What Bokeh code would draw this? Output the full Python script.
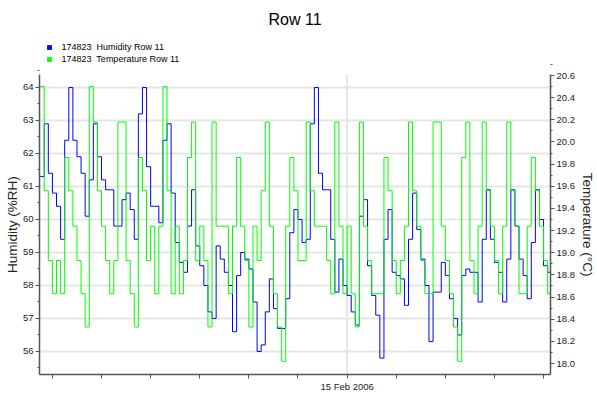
import pandas as pd
from bokeh.plotting import figure
from bokeh.models import (Range1d, LinearAxis, FixedTicker, PrintfTickFormatter,
                          CustomJSTickFormatter, Legend, LegendItem, ColumnDataSource)
from bokeh.embed import file_html
from bokeh.resources import INLINE

# ---- data (2-hour samples) ----
start_time = "2006-02-08 18:00"
sample_step = "2h"

humidity = [
    61.3, 62.9, 61.4, 60.8, 60.4, 59.4, 62.4, 64.0, 62.4, 61.9, 61.4, 60.1, 61.2, 62.9, 61.9, 61.2,
    60.9, 60.9, 59.8, 59.8, 60.6, 60.8, 60.3, 59.4, 63.2, 64.0, 61.6, 60.4, 60.4, 59.9, 62.4,
    62.9, 60.8, 59.3, 58.7, 58.4, 59.8, 60.9, 59.2, 58.6, 58.0, 57.2, 57.0, 59.2, 58.8, 58.4, 58.0,
    56.6, 58.3, 59.0, 58.8, 58.5, 57.5, 56.0, 56.2, 57.2, 58.2, 57.3, 56.7, 56.7, 57.6, 59.6,
    60.3, 60.0, 59.3, 59.4, 62.9, 64.0, 61.4, 60.9, 60.9, 59.4, 57.8, 58.8, 58.0, 57.7, 57.2, 56.8,
    60.1, 60.6, 58.6, 57.7, 57.1, 55.8, 59.4, 60.3, 58.4, 58.3, 58.2, 57.4, 59.4, 60.8, 59.7,
    58.8, 58.0, 56.3, 57.8, 57.8, 58.7, 58.3, 57.6, 57.0, 56.5, 58.3, 58.5, 58.4, 58.4, 57.5, 59.4,
    60.9, 59.4, 58.7, 58.4, 57.5, 58.8, 60.9, 59.8, 58.8, 58.3, 57.6, 59.3, 60.9, 60.0, 58.6, 58.4,
    58.2,
]

temperature = [
    20.50, 19.56, 18.93, 18.63, 18.93, 18.63, 19.86, 19.56, 19.24, 18.93, 18.63, 18.33, 20.50, 20.18,
    19.56, 19.24, 18.93, 18.63, 18.93, 20.18, 20.18, 18.93, 18.63, 18.33, 19.86, 19.56, 18.93, 19.24,
    18.63, 19.24, 20.50,
    19.56, 18.63, 19.24, 18.63, 18.93, 19.86, 20.18, 18.93, 19.24, 18.93, 18.33, 20.18, 19.24, 19.24,
    19.24, 18.63, 19.24, 19.86, 19.24, 18.93, 18.33, 19.24, 18.93, 19.56, 20.18, 19.24, 18.63, 18.33,
    18.02, 19.24, 19.86,
    19.56, 18.93, 18.93, 20.18, 19.56, 19.24, 19.24, 19.24, 18.93, 18.63, 20.18, 19.24, 18.63, 19.24,
    18.63, 18.33, 20.18, 19.24, 18.93, 18.63, 18.63, 18.63, 19.86, 19.56, 18.93, 18.63, 18.93, 19.24,
    20.18, 19.56, 19.24,
    18.93, 18.63, 18.63, 20.18, 20.18, 19.24, 18.93, 18.63, 18.33, 18.02, 19.86, 20.18, 18.93, 18.63,
    19.24, 20.18, 19.56, 19.24, 18.93, 18.63, 19.24, 20.18, 19.56, 19.24, 18.63, 18.63, 19.24, 19.86,
    19.56, 19.24, 18.93, 18.63, 18.80,
]

title_text = "Row 11"
series_names = ["174823  Humidity Row 11", "174823  Temperature Row 11"]
left_ticks = [56, 57, 58, 59, 60, 61, 62, 63, 64]
right_ticks = [18.0, 18.2, 18.4, 18.6, 18.8, 19.0, 19.2, 19.4, 19.6, 19.8, 20.0, 20.2, 20.4, 20.6]
x_tick_days = [-6, -5, -4, -3, -2, -1, 0, 1, 2, 3, 4]
x_label_day = 0
x_label_text = "15 Feb 2006"

# axis extents (visible part of each value axis)
hum_lo, hum_hi = 55.303, 64.394
tmp_lo, tmp_hi = 17.901, 20.609
# the plotting frame also holds the legend band above the axes
hum_frame_top = 65.636
tmp_frame_top = 20.9795

# ---- x in days relative to 15 Feb 2006 ----
times = pd.date_range(start_time, periods=len(humidity), freq=sample_step)
ref_day = pd.Timestamp("2006-02-15")
days = [(t - ref_day) / pd.Timedelta(days=1) for t in times]

src = ColumnDataSource(dict(x=days, h=humidity, t=temperature))

FONT = "Liberation Sans"
AXIS_COLOR = "#555555"
TEXT_COLOR = "#222222"
GRID_COLOR = "#e6e6e6"
PAD = "\u00a0" * 11

p = figure(width=597, height=396, output_backend="svg", toolbar_location=None,
           x_range=Range1d(-6.263, 4.141), y_range=Range1d(hum_lo, hum_frame_top),
           min_border_left=39, min_border_right=43, min_border_top=33, min_border_bottom=22,
           background_fill_color="white", border_fill_color="white")
p.outline_line_color = None

p.title.text = title_text
p.title.align = "center"
p.title.text_font = FONT
p.title.text_font_size = "16px"
p.title.text_font_style = "normal"
p.title.text_color = "black"
p.title.standoff = 11

p.extra_y_ranges = {"temp": Range1d(tmp_lo, tmp_frame_top)}

# vertical grid line at the labelled date (limited to the axis extent)
p.segment(x0=[x_label_day], y0=[hum_lo], x1=[x_label_day], y1=[hum_hi],
          line_color=GRID_COLOR, line_width=2, level="underlay")

# lines
p.step("x", "h", source=src, mode="after", line_color="#0000ff", line_width=1)
p.step("x", "t", source=src, mode="after", line_color="#00ff00", line_width=1,
       y_range_name="temp")

# zero-size square markers on the same data: invisible in the plot,
# but they give the legend its small filled squares
r_h = p.scatter("x", "h", source=src, marker="square", size=0,
                fill_color="#0000ff", line_color=None)
r_t = p.scatter("x", "t", source=src, marker="square", size=0,
                fill_color="#00ff00", line_color=None, y_range_name="temp")

legend = Legend(items=[LegendItem(label=series_names[0], renderers=[r_h]),
                       LegendItem(label=series_names[1], renderers=[r_t])],
                location=(3.5, 309), padding=0, margin=0, spacing=0,
                glyph_width=12, glyph_height=12, label_height=12, label_standoff=7,
                label_text_font=FONT, label_text_font_size="9px", label_text_color="black",
                border_line_color=None, background_fill_alpha=0)
p.add_layout(legend)

def style_axis(ax):
    ax.axis_line_color = AXIS_COLOR
    ax.axis_line_width = 1.5
    ax.major_tick_line_color = AXIS_COLOR
    ax.minor_tick_line_color = AXIS_COLOR
    ax.major_tick_in = 0
    ax.minor_tick_in = 0
    ax.major_tick_out = 4
    ax.minor_tick_out = 2
    ax.major_label_text_font = FONT
    ax.major_label_text_font_size = "9.5px"
    ax.major_label_text_color = TEXT_COLOR
    ax.axis_label_text_font = FONT
    ax.axis_label_text_font_size = "13.5px"
    ax.axis_label_text_font_style = "normal"
    ax.axis_label_text_color = TEXT_COLOR

# x axis
xa = p.xaxis[0]
style_axis(xa)
xa.ticker = FixedTicker(ticks=x_tick_days, minor_ticks=[])
xa.formatter = CustomJSTickFormatter(
    args=dict(lbl=x_label_text, at=x_label_day),
    code="return Math.abs(tick - at) < 1e-9 ? lbl : '';")
xa.major_label_standoff = 2

# left axis
ya = p.yaxis[0]
style_axis(ya)
ya.bounds = (hum_lo, hum_hi)
ya.ticker = FixedTicker(ticks=left_ticks,
                        minor_ticks=[v + 0.5 for v in [55] + left_ticks])
ya.formatter = PrintfTickFormatter(format="%d")
ya.axis_label = "Humidity (%RH)" + PAD
ya.major_label_standoff = 2
ya.axis_label_standoff = 0

# right axis
ra = LinearAxis(y_range_name="temp", axis_label=PAD + "Temperature (°C)")
style_axis(ra)
ra.bounds = (tmp_lo, tmp_hi)
ra.ticker = FixedTicker(ticks=right_ticks,
                        minor_ticks=[round(v + 0.1, 1) for v in [17.8] + right_ticks])
ra.formatter = PrintfTickFormatter(format="%.1f")
ra.major_label_standoff = 2
ra.axis_label_standoff = 2
p.add_layout(ra, "right")

# grids
p.xgrid.visible = False
p.ygrid.ticker = FixedTicker(ticks=left_ticks)
p.ygrid.grid_line_color = GRID_COLOR
p.ygrid.grid_line_width = 2

open("out.html", "w").write(file_html(p, INLINE))
